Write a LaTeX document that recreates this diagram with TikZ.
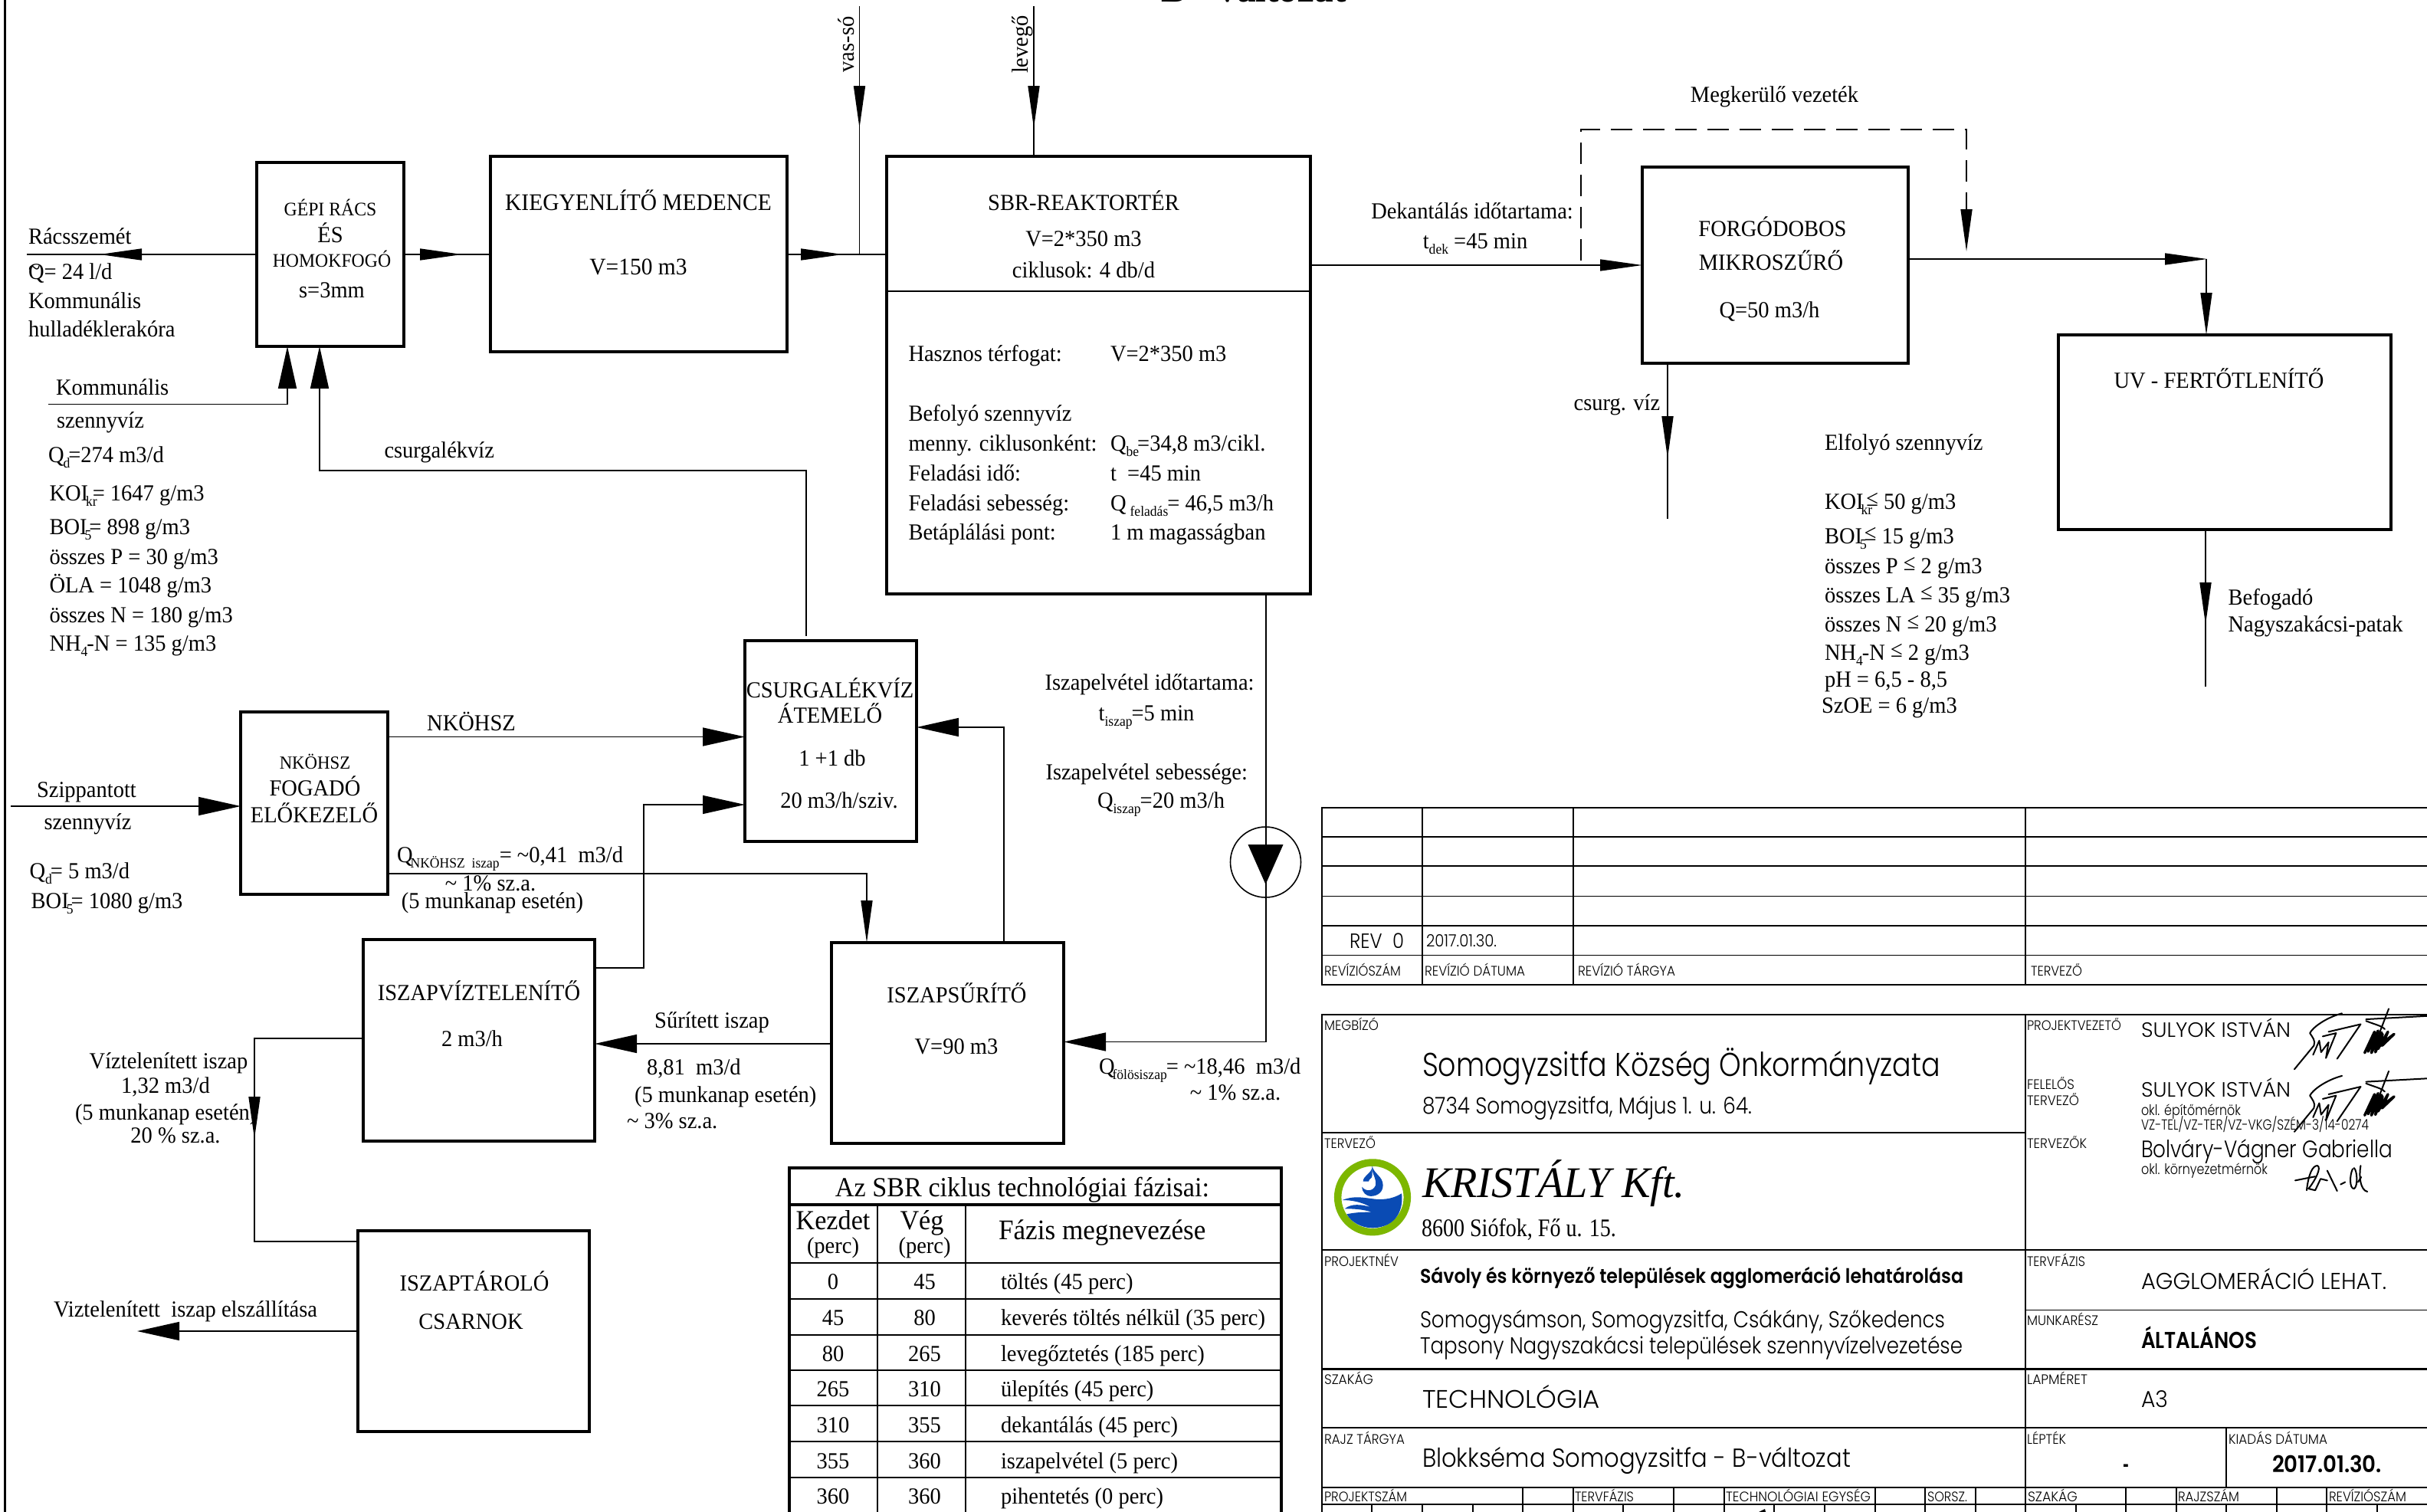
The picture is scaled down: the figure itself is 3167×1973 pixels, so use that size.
\documentclass[tikz,border=0pt]{standalone}
\usepackage{fontspec}
\usepackage{graphicx}
\usetikzlibrary{arrows.meta}
\setmainfont[FakeStretch=0.95]{Liberation Serif}
\newfontfamily\gothic[UprightFont={* Light},BoldFont={* SemiBold}]{Poppins}
\newcounter{tn}
\newlength\fitlen
\newcommand\fitto[2]{\settowidth\fitlen{#2}\pgfmathsetmacro\fitx{#1/\fitlen}\scalebox{\fitx}[1]{#2}}
% centred text: x, y-centre, size, text
\newcommand\Tc[4]{\stepcounter{tn}\node[txt,anchor=base] (t\thetn) at ({#1},{#2+.33*#3}) {\fontsize{#3}{#3}\selectfont #4};}
% left aligned text
\newcommand\Tl[4]{\stepcounter{tn}\node[txt,anchor=base west] (t\thetn) at ({#1},{#2+.33*#3}) {\fontsize{#3}{#3}\selectfont #4};}
% rotated text
\newcommand\Tr[4]{\stepcounter{tn}\node[txt,rotate=90] (t\thetn) at (#1,#2) {\fontsize{#3}{#3}\selectfont #4};}
% title-block text fitted to a width: x, y-centre, size, width, text
\newcommand\Tg[5]{\stepcounter{tn}\node[txt,anchor=base west] (t\thetn) at ({#1},{#2+.35*#3}) {\fontsize{#3}{#3}\selectfont\gothic\fitto{#4}{#5}};}
\newcommand\Ts[5]{\stepcounter{tn}\node[txt,anchor=base west] (t\thetn) at ({#1},{#2+.33*#3}) {\fontsize{#3}{#3}\selectfont\fitto{#4}{#5}};}
% box by corners
\newcommand\bx[5]{\node[boxn,minimum width={(#4-#2)*1pt},minimum height={(#5-#3)*1pt}] (#1) at ({(#2+#4)/2},{(#3+#5)/2}) {};}
\newcommand\sbs[1]{\raisebox{-7pt}{\fontsize{18.5}{18.5}\selectfont #1}}
\newcommand\lequp{\raisebox{4pt}{≤}}
\definecolor{logogreen}{HTML}{7DB700}
\definecolor{logoblue}{HTML}{0A4BB4}
\tikzset{
  txt/.style={inner sep=0pt,outer sep=0pt,text=black},
  boxn/.style={draw=black,line width=3.5pt,inner sep=0pt,outer sep=0pt,line join=miter},
  flow/.style={draw=black,line width=1.6pt},
  bighead/.style={-{Triangle[length=55pt,width=24pt]}},
  smallhead/.style={-{Triangle[length=55pt,width=15pt]}},
  tline/.style={draw=black,line width=1.4pt},
  tthick/.style={draw=black,line width=2.6pt},
  tabline/.style={draw=black,line width=2.6pt},
  tabouter/.style={draw=black,line width=3.5pt},
  sig/.style={draw=black,line width=2pt,line join=round,line cap=round},
}
\begin{document}
\begin{tikzpicture}[x=1pt,y=-1pt]
\useasboundingbox (0,0) rectangle (3167,1973);
\fill[white] (0,0) rectangle (3167,1973);
% sheet border
\draw[line width=3pt] (6,0) -- (6,1973);

% process boxes
\bx{gepi}{335}{212}{527}{452}
\bx{kiegy}{640}{204}{1027}{459}
\bx{sbr}{1157}{204}{1710}{775}
\bx{forgo}{2143}{218}{2490}{474}
\bx{uv}{2686}{437}{3120}{691}
\bx{csurg}{972}{836}{1196}{1098}
\bx{nkohsz}{314}{929}{506}{1167}
\bx{viztel}{474}{1226}{776}{1489}
\bx{surito}{1085}{1230}{1388}{1492}
\bx{tarolo}{467}{1606}{769}{1868}
\node[draw=black,line width=1.6pt,circle,minimum size=92pt,inner sep=0pt,outer sep=0pt] (pump) at (1651.5,1125) {};

% free ends and bends
\coordinate (rsEnd) at (35,332);
\coordinate (rsTip) at (130,332);
\coordinate (gkTip) at (603,332);
\coordinate (ksTip) at (1100,332);
\coordinate (vasTop) at (1121.5,8);
\coordinate (vasTip) at (1121.5,167);
\coordinate (vasEnd) at (1121.5,332);
\coordinate (levTop) at (1349,8);
\coordinate (levTip) at (1349,167);
\coordinate (komEnd) at (63,527.5);
\coordinate (komBend) at (375,527.5);
\coordinate (csBend1) at (1052,614);
\coordinate (csBend2) at (417,614);
\coordinate (csStart) at (1052,830);
\coordinate (nk1) at (506,961.5);
\coordinate (szip) at (14,1052);
\coordinate (vz1) at (840,1263);
\coordinate (vz2) at (840,1050);
\coordinate (nkSl) at (506,1140);
\coordinate (nkSb) at (1131,1140);
\coordinate (suBend) at (1310,949);
\coordinate (suTop) at (1310,1230);
\coordinate (sbrOut) at (1652,775);
\coordinate (sbrBend) at (1652,1359.5);
\coordinate (surY) at (1085,1362);
\coordinate (lv1) at (332,1355);
\coordinate (lv2) at (332,1620);
\coordinate (lvTip) at (332,1486);
\coordinate (elszTip) at (179,1737);
\coordinate (dek) at (1710,346);
\coordinate (by1) at (2063,340);
\coordinate (by2) at (2063,169);
\coordinate (by3) at (2566,169);
\coordinate (by4) at (2566,266);
\coordinate (by5) at (2566,328);
\coordinate (foOut) at (2490,338);
\coordinate (foTip) at (2880,338);
\coordinate (foBend) at (2879,338);
\coordinate (csv) at (2176,677);
\coordinate (csvTip) at (2176,598);
\coordinate (uvOut) at (2878,895.5);
\coordinate (uvTip) at (2878,815);

% connectors
\draw[flow] (gepi.west|-rsEnd) -- (rsEnd);
\draw[flow,smallhead] (gepi.west|-rsTip) -- (rsTip);
\draw[flow] (gepi.east|-gkTip) -- (kiegy.west|-gkTip);
\draw[flow,smallhead] (gepi.east|-gkTip) -- (gkTip);
\draw[flow] (kiegy.east|-ksTip) -- (sbr.west|-ksTip);
\draw[flow,smallhead] (kiegy.east|-ksTip) -- (ksTip);
\draw[flow] (vasTop) -- (vasEnd);
\draw[flow,smallhead] (vasTop) -- (vasTip);
\draw[flow] (levTop) -- (levTop|-sbr.north);
\draw[flow,smallhead] (levTop) -- (levTip);
\draw[flow,bighead] (komEnd) -- (komBend) -- (komBend|-gepi.south);
\draw[flow,bighead] (csStart) -- (csBend1) -- (csBend2) -- (csBend2|-gepi.south);
\draw[flow,bighead] (nk1) -- (csurg.west|-nk1);
\draw[flow,bighead] (szip) -- (nkohsz.west|-szip);
\draw[flow,bighead] (viztel.east|-vz1) -- (vz1) -- (vz2) -- (csurg.west|-vz2);
\draw[flow,smallhead] (nkSl) -- (nkSb) -- (nkSb|-surito.north);
\draw[flow,bighead] (suTop) -- (suBend) -- (csurg.east|-suBend);
\draw[flow,bighead] (sbrOut) -- (sbrBend) -- (surito.east|-sbrBend);
\draw[flow,bighead] (surY) -- (viztel.east|-surY);
\draw[flow] (viztel.west|-lv1) -- (lv1) -- (lv2) -- (tarolo.west|-lv2);
\draw[flow,smallhead] (lv1) -- (lvTip);
\draw[flow,bighead] (tarolo.west|-elszTip) -- (elszTip);
\draw[flow,smallhead] (dek) -- (forgo.west|-dek);
\draw[line width=1.6pt,dash pattern=on 28pt off 14pt] (by1) -- (by2) -- (by3) -- (by4);
\draw[flow,smallhead] (by4) -- (by5);
\draw[flow,smallhead] (foOut) -- (foTip);
\draw[flow,smallhead] (foBend) -- (foBend|-uv.north);
\draw[flow,smallhead] (csv|-forgo.south) -- (csvTip);
\draw[flow] (csv|-forgo.south) -- (csv);
\draw[flow] (uvTip|-uv.south) -- (uvOut);
\draw[flow,smallhead] (uvTip|-uv.south) -- (uvTip);
% pump triangle
\fill[black] (1628.5,1102) -- (1674.5,1102) -- (1651.5,1154) -- cycle;
% SBR divider
\draw[line width=2pt] (1157,380) -- (1710,380);

% left column text
\Tl{37}{309}{30}{Rácsszemét}
\Tl{37}{355}{30}{\makebox[0pt][l]{\raisebox{5pt}{\textasciitilde}}Q= 24 l/d}
\Tl{37}{393}{30}{Kommunális}
\Tl{37}{430}{30}{hulladéklerakóra}
\Tc{431}{273}{25}{GÉPI RÁCS}
\Tc{431}{307}{30}{ÉS}
\Tc{433}{340}{25}{HOMOKFOGÓ}
\Tc{433}{379}{30}{s=3mm}
\Tc{833}{264}{31}{KIEGYENLÍTŐ MEDENCE}
\Tc{833}{348}{31}{V=150 m3}
\Tl{73}{506}{30}{Kommunális}
\Tl{74}{549}{30}{szennyvíz}
\Tl{63}{594}{30}{Q\kern-1pt\sbs{d}\kern-2pt=274 m3/d}
\Tl{64.5}{644}{30}{KOI\kern-3pt\sbs{kr}\kern-6pt= 1647 g/m3}
\Tl{64.5}{688}{30}{BOI\kern-3pt\sbs{5}\kern-3pt= 898 g/m3}
\Tl{64.5}{727}{30}{összes P = 30 g/m3}
\Tl{64.5}{764}{30}{ÖLA = 1048 g/m3}
\Tl{64.5}{803}{30}{összes N = 180 g/m3}
\Tl{64.5}{840}{30}{NH\sbs{4}\kern-1pt-N = 135 g/m3}
\Tl{501.5}{588}{30}{csurgalékvíz}
\Tr{1104.5}{58}{30}{vas-só}
\Tr{1334}{58}{30}{levegő}

% SBR text
\Tc{1414}{265}{30}{SBR-REAKTORTÉR}
\Tc{1414}{312}{30}{V=2*350 m3}
\Tc{1414}{353}{30}{ciklusok: 4 db/d}
\Tl{1185.5}{462}{30}{Hasznos térfogat:}
\Tl{1449}{462}{30}{V=2*350 m3}
\Tl{1185.5}{540}{30}{Befolyó szennyvíz}
\Tl{1185.5}{579}{30}{menny. ciklusonként:}
\Tl{1449}{579}{30}{Q\sbs{be}\kern-2pt=34,8 m3/cikl.}
\Tl{1185.5}{618}{30}{Feladási idő:}
\Tl{1449}{618}{30}{t\ \ =45 min}
\Tl{1185.5}{657}{30}{Feladási sebesség:}
\Tl{1449}{657}{30}{Q\,\sbs{feladás}\kern-1pt= 46,5 m3/h}
\Tl{1185.5}{695}{30}{Betáplálási pont:}
\Tl{1449}{695}{30}{1 m magasságban}

% middle labels
\Tc{1083}{901}{30}{CSURGALÉKVÍZ}
\Tc{1083}{934}{30}{ÁTEMELŐ}
\Tc{1086}{990}{30}{1 +1 db}
\Tc{1095}{1045}{30}{20 m3/h/sziv.}
\Tc{1500}{891}{30}{Iszapelvétel időtartama:}
\Tc{1496}{931}{30}{t\sbs{iszap}\kern-1pt=5 min}
\Tl{1364.5}{1008}{30}{Iszapelvétel sebessége:}
\Tl{1432}{1045}{30}{Q\sbs{iszap}\kern-1pt=20 m3/h}
\Tc{1248.5}{1299}{30}{ISZAPSŰRÍTŐ}
\Tc{1248}{1366}{30}{V=90 m3}
\Tl{1434}{1392}{30}{Q\kern-3pt\sbs{fölösiszap}\kern-1pt= \textasciitilde18,46\ \ m3/d}
\Tc{1612}{1426}{30}{\textasciitilde\ 1\% sz.a.}

\Tc{411}{996}{24}{NKÖHSZ}
\Tc{411}{1029}{30}{FOGADÓ}
\Tc{410}{1064}{30}{ELŐKEZELŐ}
\Tc{615}{943.5}{30}{NKÖHSZ}
\Tl{48}{1031}{30}{Szippantott}
\Tl{57.5}{1073}{30}{szennyvíz}
\Tl{38.6}{1136.5}{30}{Q\sbs{d}\kern-2pt= 5 m3/d}
\Tl{40.7}{1175.5}{30}{BOI\kern-3pt\sbs{5}\kern-3pt= 1080 g/m3}
\Tl{518}{1116}{30}{Q\kern-3pt\sbs{NKÖHSZ\ \ iszap}= \textasciitilde0,41\ \ m3/d}
\Tc{640}{1153}{30}{\textasciitilde\ 1\% sz.a.}
\Tc{642.5}{1175.5}{30}{(5 munkanap esetén)}
\Tc{625}{1296}{30}{ISZAPVÍZTELENÍTŐ}
\Tc{616}{1356}{30}{2 m3/h}
\Tc{929}{1332}{30}{Sűrített iszap}
\Tl{844}{1393}{30}{8,81\ \ m3/d}
\Tl{828}{1429}{30}{(5 munkanap esetén)}
\Tl{818}{1463}{30}{\textasciitilde\ 3\% sz.a.}
\Tc{220}{1385}{30}{Víztelenített iszap}
\Tc{216}{1417}{30}{1,32 m3/d}
\Tl{98}{1452}{30}{(5 munkanap esetén)}
\Tc{229}{1482}{30}{20 \% sz.a.}
\Tc{619}{1675}{30}{ISZAPTÁROLÓ}
\Tc{614.5}{1725}{30}{CSARNOK}
\Ts{70}{1709}{30}{344}{Viztelenített\ \ iszap elszállítása}

% right labels
\Tc{2315.5}{124}{30}{Megkerülő vezeték}
\Tc{1921}{276}{30}{Dekantálás időtartama:}
\Tc{1925}{315}{30}{t\sbs{dek}\ =45 min}
\Tc{2313}{299}{30}{FORGÓDOBOS}
\Tc{2311}{343}{30}{MIKROSZŰRŐ}
\Tc{2309}{405}{30}{Q=50 m3/h}
\Tl{2053.6}{526}{30}{csurg. víz}
\Tc{2895.5}{497}{30}{UV - FERTŐTLENÍTŐ}
\Tl{2381}{577.5}{30}{Elfolyó szennyvíz}
\Tl{2381}{655}{30}{KOI\kern-3pt\sbs{kr}\kern-8pt\lequp\ 50 g/m3}
\Tl{2381}{700}{30}{BOI\kern-3pt\sbs{5}\kern-3pt\lequp\ 15 g/m3}
\Tl{2381}{738.5}{30}{összes P \lequp\ 2 g/m3}
\Tl{2381}{776.6}{30}{összes LA \lequp\ 35 g/m3}
\Tl{2381}{815}{30}{összes N \lequp\ 20 g/m3}
\Tl{2381}{852}{30}{NH\sbs{4}\kern-1pt-N \lequp\ 2 g/m3}
\Tl{2381}{887}{30}{pH = 6,5 - 8,5}
\Tl{2377}{921}{30}{SzOE = 6 g/m3}
\Tl{2907.6}{780}{30}{Befogadó}
\Tl{2907.6}{815}{30}{Nagyszakácsi-patak}

% cropped sheet title
\stepcounter{tn}
\node[txt,anchor=base] (t\thetn) at (1636,2) {\fontsize{52}{52}\selectfont\bfseries B - változat};

% phase table
\draw[tabouter] (1030,1973) -- (1030,1524) -- (1672,1524) -- (1672,1973);
\draw[tabouter] (1030,1572) -- (1672,1572);
\foreach \yy in {1648,1695,1742,1788,1834,1881,1928} {\draw[tabline] (1030,\yy) -- (1672,\yy);}
\draw[tabline] (1145,1572) -- (1145,1973);
\draw[tabline] (1260,1572) -- (1260,1973);
\Tc{1334}{1550}{36}{Az SBR ciklus technológiai fázisai:}
\Tc{1087}{1593}{36}{Kezdet}
\Tc{1087}{1626}{30}{(perc)}
\Tc{1203}{1593}{36}{Vég}
\Tc{1206.6}{1626}{30}{(perc)}
\Tl{1303}{1605}{37}{Fázis megnevezése}
\Tc{1087}{1673}{30}{0}
\Tc{1206.6}{1673}{30}{45}
\Tl{1306}{1673}{30}{töltés (45 perc)}
\Tc{1087}{1720}{30}{45}
\Tc{1206.6}{1720}{30}{80}
\Tl{1306}{1720}{30}{keverés töltés nélkül (35 perc)}
\Tc{1087}{1767}{30}{80}
\Tc{1206.6}{1767}{30}{265}
\Tl{1306}{1767}{30}{levegőztetés (185 perc)}
\Tc{1087}{1813}{30}{265}
\Tc{1206.6}{1813}{30}{310}
\Tl{1306}{1813}{30}{ülepítés (45 perc)}
\Tc{1087}{1860}{30}{310}
\Tc{1206.6}{1860}{30}{355}
\Tl{1306}{1860}{30}{dekantálás (45 perc)}
\Tc{1087}{1907}{30}{355}
\Tc{1206.6}{1907}{30}{360}
\Tl{1306}{1907}{30}{iszapelvétel (5 perc)}
\Tc{1087}{1953}{30}{360}
\Tc{1206.6}{1953}{30}{360}
\Tl{1306}{1953}{30}{pihentetés (0 perc)}

% revision table
\draw[tthick] (3167,1054) -- (1725,1054) -- (1725,1285) -- (3167,1285);
\foreach \yy in {1092,1130,1169.5,1208,1246.5} {\draw[tline] (1725,\yy) -- (3167,\yy);}
\foreach \xx in {1856,2053,2643} {\draw[tline] (\xx,1054) -- (\xx,1285);}
\Tg{1761}{1228}{27}{71}{REV\ \ 0}
\Tg{1861}{1228}{22}{92}{2017.01.30.}
\Tg{1728}{1267}{18}{100}{REVÍZIÓSZÁM}
\Tg{1859}{1267}{18}{131}{REVÍZIÓ DÁTUMA}
\Tg{2059}{1267}{18}{127}{REVÍZIÓ TÁRGYA}
\Tg{2650}{1267}{18}{67}{TERVEZŐ}

% title block frame
\draw[tthick] (3167,1324) -- (1725,1324) -- (1725,1973);
\draw[tthick] (2643,1324) -- (2643,1973);
\draw[tthick] (1725,1478) -- (2643,1478);
\draw[tthick] (1725,1631) -- (3167,1631);
\draw[tthick] (1725,1786.5) -- (3167,1786.5);
\draw[tthick] (1725,1863) -- (3167,1863);
\draw[tline] (2643,1709.5) -- (3167,1709.5);
\draw[tline] (2905,1863) -- (2905,1941);
\draw[tthick] (1725,1941) -- (3167,1941);
\draw[tline] (1725,1963) -- (3167,1963);
\foreach \xx in {1987,2053,2184,2250,2447,2512,2578,2774,2840,2971,3036} {\draw[tline] (\xx,1941) -- (\xx,1963);}
\foreach \xx in {1790,1856,1922,1987,2053,2118,2184,2250,2315,2381,2447,2512,2578,2709,2774,2840,2905,2971,3036,3102} {\draw[tline] (\xx,1963) -- (\xx,1973);}
\fill[black] (2295,1973) -- (2303,1969) -- (2304,1973) -- cycle;

% title block text
\Tg{1728}{1338}{18}{71}{MEGBÍZÓ}
\Tg{1856}{1389}{43}{676}{Somogyzsitfa Község Önkormányzata}
\Tg{1856}{1443}{30}{430}{8734 Somogyzsitfa, Május 1. u. 64.}
\Tg{1728}{1492}{18}{67}{TERVEZŐ}
\Ts{1856}{1544}{57}{343}{\itshape KRISTÁLY Kft.}
\Ts{1855}{1603}{33}{254}{8600 Siófok, Fő u. 15.}
\Tg{1728}{1646}{18}{97}{PROJEKTNÉV}
\Tg{1853}{1665}{26}{709}{\bfseries Sávoly és környező települések agglomeráció lehatárolása}
\Tg{1853}{1721.5}{30}{685}{Somogysámson, Somogyzsitfa, Csákány, Szőkedencs}
\Tg{1853}{1756}{30}{708}{Tapsony Nagyszakácsi települések szennyvízelvezetése}
\Tg{1728}{1800}{18}{64}{SZAKÁG}
\Tg{1856}{1825.5}{33}{232}{TECHNOLÓGIA}
\Tg{1728}{1878}{18}{105}{RAJZ TÁRGYA}
\Tg{1856}{1903}{34}{559}{Blokkséma Somogyzsitfa - B-változat}
\Tg{2645}{1338}{18}{123}{PROJEKTVEZETŐ}
\Tg{2794}{1344}{27}{195}{SULYOK ISTVÁN}
\Tg{2645}{1415}{18}{62}{FELELŐS}
\Tg{2645}{1436}{18}{68}{TERVEZŐ}
\Tg{2794}{1422}{27}{195}{SULYOK ISTVÁN}
\Tg{2794}{1449}{19}{130}{okl. építőmérnök}
\Tg{2794}{1468}{19}{297}{VZ-TEL/VZ-TER/VZ-VKG/SZÉM-3/14-0274}
\Tg{2645}{1492}{18}{78}{TERVEZŐK}
\Tg{2794}{1500}{31}{328}{Bolváry-Vágner Gabriella}
\Tg{2794}{1526}{19}{165}{okl. környezetmérnök}
\Tg{2645}{1646}{18}{76}{TERVFÁZIS}
\Tg{2794}{1672}{30}{320}{AGGLOMERÁCIÓ LEHAT.}
\Tg{2645}{1723}{18}{93}{MUNKARÉSZ}
\Tg{2794}{1748.5}{30}{151}{\bfseries ÁLTALÁNOS}
\Tg{2645}{1800}{18}{79}{LAPMÉRET}
\Tg{2794}{1825.5}{30}{35}{A3}
\Tg{2645}{1878}{18}{51}{LÉPTÉK}
\Tg{2770}{1913}{30}{8}{\bfseries -}
\Tg{2908}{1878}{18}{129}{KIADÁS DÁTUMA}
\Tg{2965}{1911}{30}{143}{\bfseries 2017.01.30.}
\Tg{1728}{1953}{18}{108}{PROJEKTSZÁM}
\Tg{2055}{1953}{18}{77}{TERVFÁZIS}
\Tg{2252}{1953}{18}{189}{TECHNOLÓGIAI EGYSÉG}
\Tg{2515}{1953}{18}{52}{SORSZ.}
\Tg{2646}{1953}{18}{65}{SZAKÁG}
\Tg{2842}{1953}{18}{80}{RAJZSZÁM}
\Tg{3039}{1953}{18}{101}{REVÍZIÓSZÁM}

% logo
\begin{scope}[shift={(1720,1490)},x=0.3333pt,y=-0.3333pt]
\draw[logogreen,line width=9.5pt] (213,217) circle (136);
\fill[logoblue] (95,228) .. controls (150,205) and (200,225) .. (240,225) .. controls (280,225) and (305,215) .. (327,202) .. controls (335,260) and (310,335) .. (213,337) .. controls (170,337) and (130,315) .. (112,283) .. controls (150,275) and (180,275) .. (210,275) .. controls (170,262) and (130,262) .. (104,262) .. controls (130,240) and (170,245) .. (205,255) .. controls (170,235) and (130,228) .. (95,228) -- cycle;
\fill[logoblue] (212,95) .. controls (210,125) and (176,132) .. (176,155) -- (198,155) .. controls (198,145) and (212,145) .. (212,130) -- cycle;
\fill[logoblue] (212,95) .. controls (218,125) and (254,135) .. (254,170) .. controls (254,205) and (220,215) .. (200,212) .. controls (190,210) and (172,200) .. (172,176) .. controls (185,195) and (215,195) .. (225,170) .. controls (230,150) and (215,130) .. (212,112) -- cycle;
\end{scope}

% signatures
\begin{scope}[shift={(2620,1300)},x=0.3488pt,y=-0.4292pt]
\foreach \dy in {0,190} {
\begin{scope}[yshift=-\dy*0.4292pt]
\draw[sig] (1250,52) .. controls (1190,65) and (1140,95) .. (1130,112) .. controls (1140,125) and (1152,135) .. (1145,150) -- (1072,222);
\draw[sig] (1142,178) -- (1165,135) -- (1172,170) -- (1200,140) -- (1190,188) -- (1228,112) -- (1178,122);
\draw[sig] (1200,108) -- (1320,85) -- (1232,190);
\draw[sig] (1425,38) -- (1365,165);
\draw[sig] (1340,75) .. controls (1370,85) and (1400,90) .. (1410,100);
\draw[sig] (1340,70) -- (1568,60);
\draw[sig,line width=3.5pt] (1335,172) -- (1372,108) -- (1348,168) -- (1385,105) -- (1360,172) -- (1398,110) -- (1375,170) -- (1402,115) -- (1385,160) -- (1422,108) -- (1400,150) -- (1445,115) -- (1405,140);
\end{scope}
}
\draw[sig] (1075,560) -- (1150,548);
\draw[sig] (1118,590) .. controls (1125,540) and (1140,515) .. (1158,515) .. controls (1175,520) and (1150,560) .. (1125,585) -- (1150,590) -- (1170,555) -- (1195,560);
\draw[sig] (1195,530) -- (1232,592);
\draw[sig] (1245,572) -- (1262,565);
\draw[sig] (1290,525) .. controls (1278,545) and (1278,585) .. (1295,585) .. controls (1310,580) and (1308,530) .. (1295,522);
\draw[sig] (1320,515) .. controls (1312,550) and (1320,590) .. (1345,594);
\draw[sig] (1310,565) -- (1322,550);
\end{scope}
\end{tikzpicture}
\end{document}
